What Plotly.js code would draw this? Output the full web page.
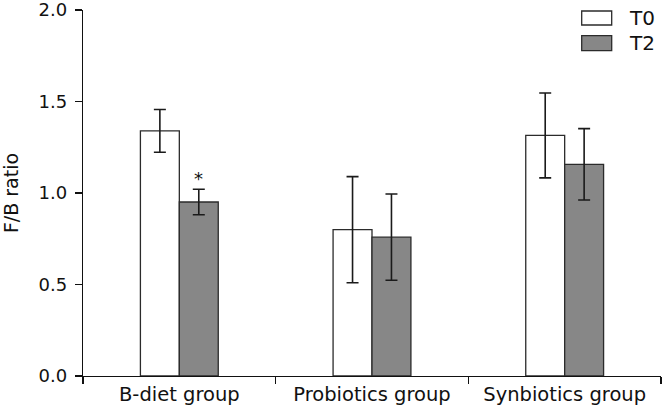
<!DOCTYPE html>
<html>
<head>
<meta charset="utf-8">
<script src="https://cdn.plot.ly/plotly-3.0.1.min.js"></script>
<style>
  html, body { margin: 0; padding: 0; background: #fff; }
  #chart { width: 664px; height: 414px; }
</style>
</head>
<body>
<div id="chart"></div>
<script>
// ---- data ----
const categories = ["B-diet group", "Probiotics group", "Synbiotics group"];
const seriesNames = ["T0", "T2"];
const t0Values = [1.34, 0.80, 1.315];
const t0Errors = [0.117, 0.29, 0.232];
const t2Values = [0.951, 0.759, 1.157];
const t2Errors = [0.07, 0.236, 0.195];
const yTickValues = [0, 0.5, 1.0, 1.5, 2.0];
const yTickLabels = ["0.0", "0.5", "1.0", "1.5", "2.0"];
const significance = [{ category: 0, series: 1, label: "*" }];

const FONT = "DejaVu Sans, Arial, sans-serif";
const fills = ["#ffffff", "#878787"];
const outline = "#2b2b2b";

function barTrace(name, values, errors, fill) {
  return {
    type: "bar",
    name: name,
    x: categories,
    y: values,
    marker: { color: fill, line: { color: outline, width: 1.3 } },
    error_y: { type: "data", array: errors, visible: true, color: "#1a1a1a", thickness: 1.6, width: 6 },
    showlegend: false,
    hoverinfo: "skip"
  };
}

const traces = [
  barTrace(seriesNames[0], t0Values, t0Errors, fills[0]),
  barTrace(seriesNames[1], t2Values, t2Errors, fills[1])
];

const bargap = 0.596;
const barW = (1 - bargap) / 2;

const annotations = significance.map(s => {
  const vals = s.series === 0 ? t0Values : t2Values;
  const errs = s.series === 0 ? t0Errors : t2Errors;
  return {
    xref: "x", yref: "y",
    x: s.category + (s.series === 0 ? -barW / 2 : barW / 2),
    y: vals[s.category] + errs[s.category],
    text: s.label, showarrow: false,
    yanchor: "bottom", yshift: -2,
    font: { family: FONT, size: 18, color: "#111" }
  };
});

// custom legend (rectangle swatches)
const legendShapes = [];
const legendRows = [
  { y0: 0.959, y1: 0.9973 },
  { y0: 0.8888, y1: 0.9298 }
];
seriesNames.forEach((n, i) => {
  legendShapes.push({
    type: "rect", xref: "paper", yref: "paper",
    x0: 0.8628, x1: 0.9147, y0: legendRows[i].y0, y1: legendRows[i].y1,
    fillcolor: fills[i], line: { color: outline, width: 1.3 }
  });
  annotations.push({
    xref: "paper", yref: "paper",
    x: 0.942, y: (legendRows[i].y0 + legendRows[i].y1) / 2,
    xanchor: "left", yanchor: "middle",
    text: n, showarrow: false,
    font: { family: FONT, size: 20, color: "#111" }
  });
});

const layout = {
  width: 664, height: 414,
  margin: { l: 83, r: 3, t: 10, b: 38, pad: 0 },
  paper_bgcolor: "#ffffff", plot_bgcolor: "#ffffff",
  barmode: "group",
  bargap: bargap, bargroupgap: 0,
  showlegend: false,
  font: { family: FONT, color: "#111" },
  xaxis: {
    type: "category",
    range: [-0.5, 2.5],
    showline: true, linecolor: "#111", linewidth: 1.3,
    ticks: "outside", tickson: "boundaries", ticklen: 7, tickwidth: 1.3, tickcolor: "#111",
    tickfont: { family: FONT, size: 19.5, color: "#111" },
    showgrid: false, zeroline: false, fixedrange: true
  },
  yaxis: {
    range: [0, 2.0005],
    tickvals: yTickValues, ticktext: yTickLabels,
    ticklabeloverflow: "allow",
    ticklabelstandoff: 4,
    showline: true, linecolor: "#111", linewidth: 1.3,
    ticks: "outside", ticklen: 7, tickwidth: 1.3, tickcolor: "#111",
    tickfont: { family: FONT, size: 18, color: "#111" },
    title: { text: "F/B ratio", font: { family: FONT, size: 19, color: "#111" }, standoff: 14 },
    showgrid: false, zeroline: false, fixedrange: true
  },
  shapes: legendShapes,
  annotations: annotations
};

Plotly.newPlot("chart", traces, layout, { displayModeBar: false, staticPlot: true });
</script>
</body>
</html>
